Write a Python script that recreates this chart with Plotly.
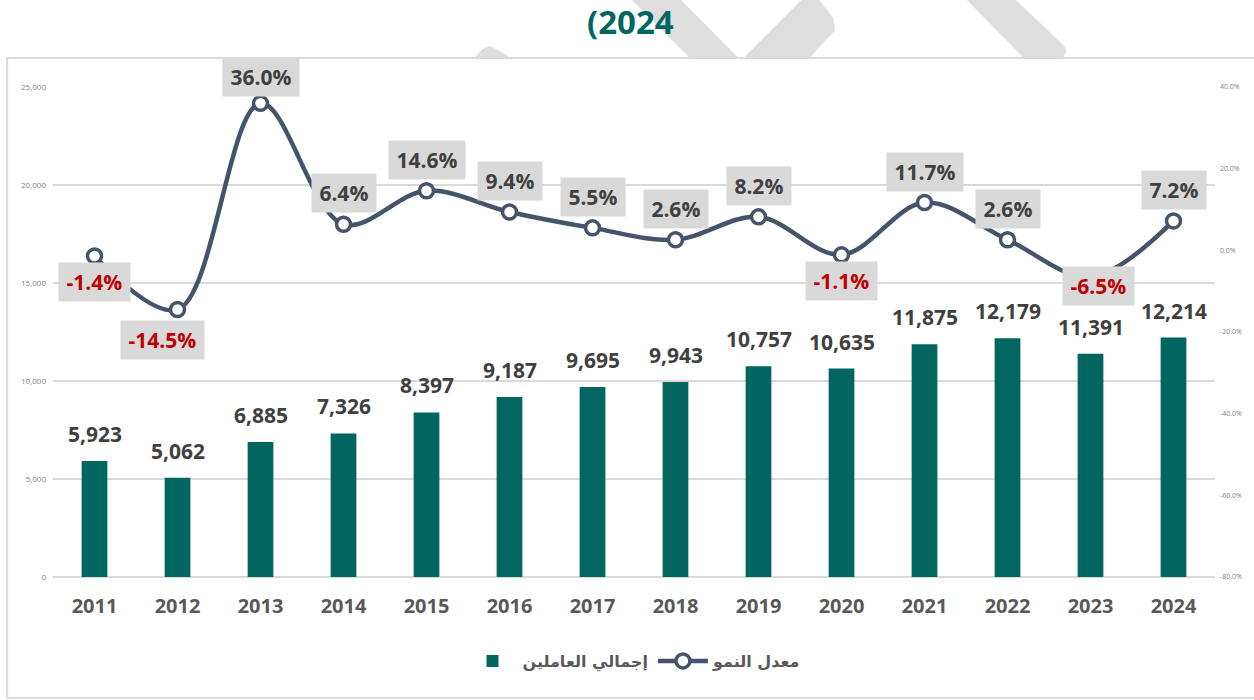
import plotly.graph_objects as go

# ---------------- data ----------------
years = ["2011", "2012", "2013", "2014", "2015", "2016", "2017",
         "2018", "2019", "2020", "2021", "2022", "2023", "2024"]
workers = [5923, 5062, 6885, 7326, 8397, 9187, 9695,
           9943, 10757, 10635, 11875, 12179, 11391, 12214]
growth = [-1.4, -14.5, 36.0, 6.4, 14.6, 9.4, 5.5,
          2.6, 8.2, -1.1, 11.7, 2.6, -6.5, 7.2]
workers_ticks = [0, 5000, 10000, 15000, 20000, 25000]
growth_ticks = [-80, -60, -40, -20, 0, 20, 40]
workers_name = "إجمالي العاملين"
growth_name = "معدل النمو"
title_text = "(2024"

# ---------------- styling ----------------
W, H = 1254, 700
ML, MR, MT, MB = 53, 35, 87, 123
TEAL = "#00665F"
SLATE = "#44546A"
GRID = "#D9D9D9"
FONT = "Open Sans"
PW, PH = W - ML - MR, H - MT - MB
# manual label nudges (dx, dy in pixels, dy>0 = down), as adjusted in the original
LABEL_NUDGE = {"2012": (-15, 4), "2013": (0, 5), "2023": (8, -17)}


def px(x, y):
    """pixel -> paper coordinates"""
    return (x - ML) / PW, 1 - (y - MT) / PH


def text_w(s, size):
    em = {".": 0.28, ",": 0.28, "%": 0.85, "-": 0.33}
    return sum(em.get(c, 0.572) for c in s) * size


fig = go.Figure()

fig.add_trace(go.Bar(
    x=years, y=workers, name=workers_name,
    marker=dict(color=TEAL, line=dict(width=0)),
    yaxis="y",
))

fig.add_trace(go.Scatter(
    x=years, y=growth, name=growth_name, yaxis="y2",
    mode="lines+markers",
    line=dict(color=SLATE, width=4.5, shape="spline", smoothing=1),
    marker=dict(size=14, color="white", line=dict(color=SLATE, width=3.5)),
))

annotations = []
# bar value labels (x given as category index)
for i, v in enumerate(workers):
    annotations.append(dict(
        x=i, y=v, xref="x", yref="y", text=f"{v:,}", showarrow=False,
        yanchor="bottom", yshift=11,
        font=dict(family=FONT, size=21, color="#404040", weight="bold"),
    ))
# growth labels in grey boxes
for i, g in enumerate(growth):
    t = f"{g:.1f}%"
    neg = g < 0
    dx, dy = LABEL_NUDGE.get(years[i], (0, 0))
    annotations.append(dict(
        x=i, y=g, xref="x", yref="y2", text=t, showarrow=False,
        yanchor="middle", yshift=(-26 if neg else 31) - dy, xshift=dx,
        bgcolor="#D9D9D9", borderpad=5, width=text_w(t, 21) + 6,
        font=dict(family=FONT, size=21,
                  color=("#C00000" if neg else "#404040"), weight="bold"),
    ))
# cropped title
tx, ty = px(632, 22)
annotations.append(dict(
    x=tx, y=ty, xref="paper", yref="paper", text=title_text, showarrow=False,
    xanchor="center", yanchor="middle",
    font=dict(family=FONT, size=33, color="#006661", weight="bold"),
))

shapes = []
# watermark fragments above the chart frame
WM = "#DEDEDE"


def poly(points):
    path = ""
    for k, (x, y) in enumerate(points):
        a, b = px(x, y)
        path += ("M" if k == 0 else "L") + f"{a},{b} "
    return path + "Z"


for pts in [
    [(634, 0), (683, 0), (741, 58), (692, 58)],
    [(746, 58), (804, 0), (822, 0), (836, 18), (838, 30), (812, 58)],
    [(970, 0), (1019, 0), (1068, 46), (1070, 52), (1066, 58), (1027, 58)],
    [(476, 58), (484, 49), (491, 46), (498, 49), (512, 58)],
]:
    shapes.append(dict(type="path", xref="paper", yref="paper", path=poly(pts),
                       fillcolor=WM, line=dict(width=0), layer="below"))

# chart frame
x0, y0 = px(7, 698)
x1, y1 = px(1262, 58)
shapes.append(dict(type="rect", xref="paper", yref="paper",
                   x0=x0, y0=y0, x1=x1, y1=y1,
                   line=dict(color="#D9D9D9", width=2), layer="below"))

fig.update_layout(
    width=W, height=H, autosize=False,
    margin=dict(l=ML, r=MR, t=MT, b=MB, pad=0),
    paper_bgcolor="white", plot_bgcolor="white",
    bargap=0.69,
    showlegend=True,
    legend=dict(orientation="h", x=0.5, xanchor="center",
                y=px(0, 661)[1], yanchor="middle",
                font=dict(family="DejaVu Sans", size=16, color="#595959", weight="bold"),
                itemwidth=50, traceorder="normal"),
    xaxis=dict(
        type="category", range=[-0.5, len(years) - 0.5], autorange=False,
        showgrid=False, showline=False, zeroline=False,
        ticks="", ticklabelstandoff=15,
        tickfont=dict(family=FONT, size=20, color="#595959", weight="bold"),
    ),
    yaxis=dict(
        range=[0, 25000], tickvals=workers_ticks,
        ticktext=[f"{v:,}" for v in workers_ticks],
        showgrid=True, gridcolor=GRID, gridwidth=1.5,
        zeroline=True, zerolinecolor=GRID, zerolinewidth=1.5,
        showline=False, ticks="", ticklabelstandoff=6,
        tickfont=dict(family=FONT, size=8, color="#7F7F7F"),
    ),
    yaxis2=dict(
        overlaying="y", side="right", range=[-80, 40],
        tickvals=growth_ticks,
        ticktext=[f"{v:.1f}%" for v in growth_ticks],
        showgrid=False, zeroline=False, showline=False, ticks="",
        ticklabelstandoff=4,
        tickfont=dict(family=FONT, size=7, color="#7F7F7F"),
    ),
    annotations=annotations,
    shapes=shapes,
)

fig.write_html("out.html")
